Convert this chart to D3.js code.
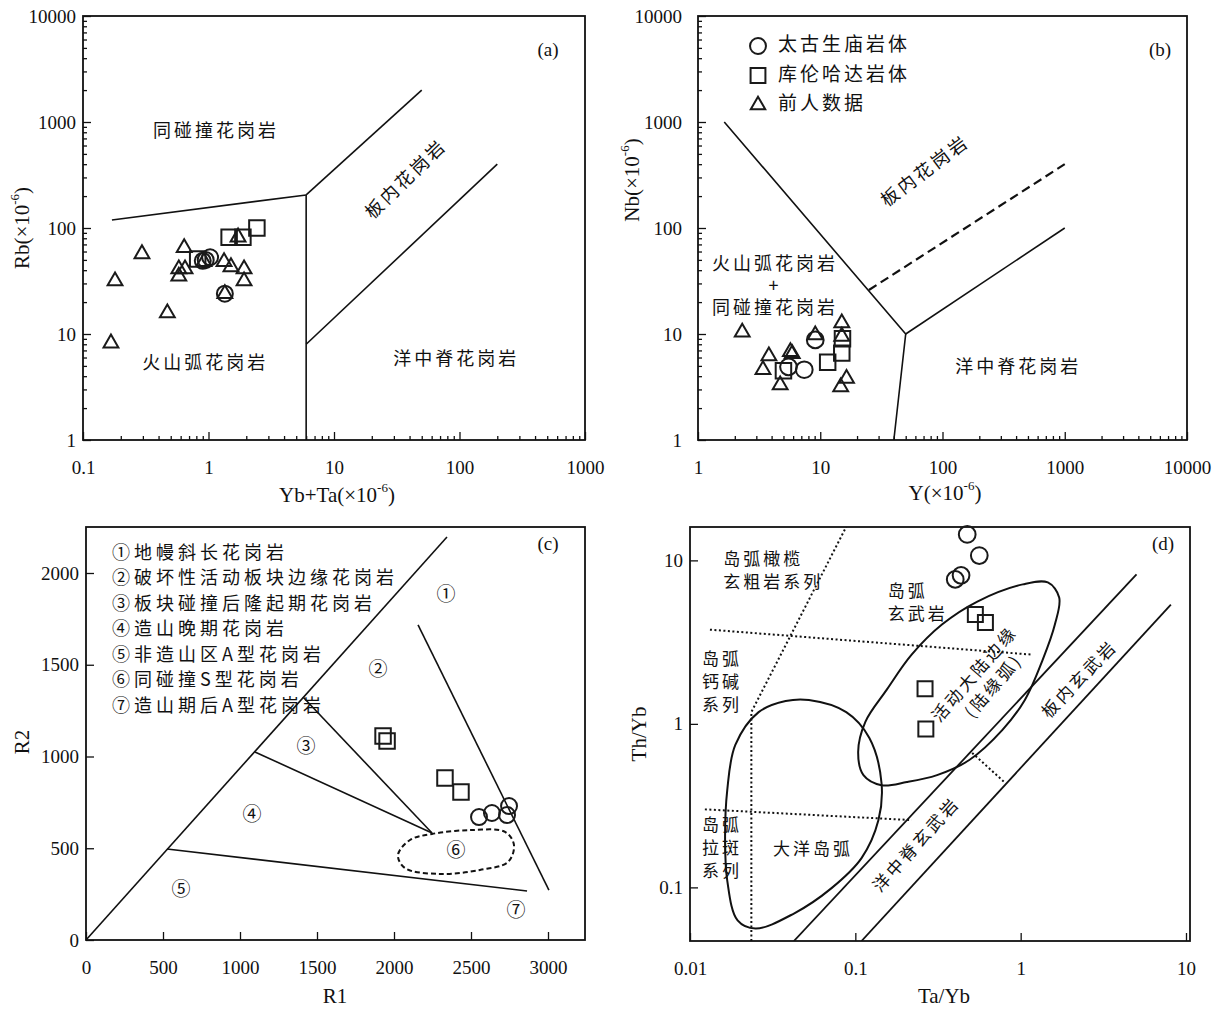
<!DOCTYPE html>
<html>
<head>
<meta charset="utf-8">
<script src="https://cdn.jsdelivr.net/npm/d3@7"></script>
<style>
  body { margin: 0; background: #fff; }
  svg text { font-family: "Liberation Serif", "Noto Sans CJK SC", serif; fill: #111; }
  svg text.cn { font-family: "Noto Sans CJK SC", sans-serif; }
</style>
</head>
<body>
<svg id="chart" width="1231" height="1011"></svg>
<script>
// ---------- data ----------
// (a) Rb vs Yb+Ta
const aCircles = [[1.03, 53], [0.95, 50], [0.9, 49], [1.35, 24]];
const aSquares = [[0.82, 51], [1.46, 82], [1.88, 82], [2.43, 100]];
const aTriangles = [[1.72, 82], [0.64, 65], [0.295, 57], [0.18, 31.6], [0.58, 41], [0.65, 41], [0.58, 35],
  [1.33, 48], [1.51, 43], [1.92, 41], [1.92, 31.6], [1.35, 24], [0.47, 15.8], [0.167, 8.2], [0.92, 48]];
const aBoundaries = [[[0.17, 119], [6, 205]], [[6, 205], [6, 1]], [[6, 205], [50, 2000]], [[6, 8], [200, 400]]];
const aLabels = [
  { t: "同碰撞花岗岩", p: [1.15, 805], r: 0 },
  { t: "板内花岗岩", p: [38, 284], r: -44 },
  { t: "火山弧花岗岩", p: [0.94, 5.2], r: 0 },
  { t: "洋中脊花岗岩", p: [94, 5.7], r: 0 }
];

// (b) Nb vs Y
const bCircles = [[9.1, 8.8], [7.4, 4.6], [5.5, 4.9]];
const bSquares = [[15.2, 9.0], [15, 6.6], [11.5, 5.4], [5.0, 4.5]];
const bTriangles = [[2.3, 10.4], [9.1, 9.8], [15, 12.7], [15, 9.5], [3.8, 6.2], [3.4, 4.6], [5.7, 6.8],
  [5.9, 6.5], [4.7, 3.3], [14.7, 3.16], [16.4, 3.8]];
const bBoundaries = [[[1.64, 1000], [50, 10], [40, 1]], [[50, 10], [1000, 100]]];
const bDashed = [[25, 26], [1000, 400]];
const bLabels = [
  { t: "板内花岗岩", p: [73, 338], r: -37 },
  { t: "火山弧花岗岩", p: [4.27, 44.8], r: 0 },
  { t: "+", p: [4.27, 27.8], r: 0 },
  { t: "同碰撞花岗岩", p: [4.27, 17.2], r: 0 },
  { t: "洋中脊花岗岩", p: [416, 4.78], r: 0 }
];
const legendItems = ["太古生庙岩体", "库伦哈达岩体", "前人数据"];

// (c) R1-R2
const cCircles = [[2552, 670], [2636, 692], [2734, 681], [2747, 730]];
const cSquares = [[1929, 1112], [1955, 1085], [2331, 883], [2435, 807]];
const cBoundaries = [[[0, 0], [2344, 2196]], [[2156, 1717], [3006, 272]], [[1409, 1324], [2247, 583]],
  [[1097, 1025], [2247, 583]], [[526, 496], [2864, 267]]];
const cField6 = [[2247, 578], [2494, 599], [2721, 589], [2779, 518], [2740, 425], [2558, 382],
  [2299, 360], [2071, 392], [2026, 463], [2104, 545]];
const cNumbers = [
  { t: "①", p: [2338, 1875] }, { t: "②", p: [1896, 1466] }, { t: "③", p: [1429, 1046] },
  { t: "④", p: [1078, 676] }, { t: "⑤", p: [617, 267] }, { t: "⑥", p: [2403, 479] }, { t: "⑦", p: [2792, 153] }
];
const cLegend = ["①地幔斜长花岗岩", "②破坏性活动板块边缘花岗岩", "③板块碰撞后隆起期花岗岩", "④造山晚期花岗岩",
  "⑤非造山区A型花岗岩", "⑥同碰撞S型花岗岩", "⑦造山期后A型花岗岩"];

// (d) Th/Yb vs Ta/Yb
const dCircles = [[0.475, 14.4], [0.562, 10.7], [0.436, 8.1], [0.402, 7.65]];
const dSquares = [[0.532, 4.66], [0.612, 4.17], [0.264, 1.64], [0.267, 0.93]];
const dSolid = [[[0.0425, 0.047], [5.02, 8.2]], [[0.109, 0.047], [8.1, 5.37]]];
const dDotted = [[[0.0132, 3.77], [1.18, 2.65]], [[0.0123, 0.30], [0.219, 0.258]],
  [[0.0235, 0.047], [0.0235, 1.18], [0.088, 16]], [[0.509, 0.664], [0.798, 0.44]]];
const dOceanArc = [[0.0524, 1.40], [0.0881, 1.18], [0.1216, 0.82], [0.144, 0.435], [0.138, 0.258], [0.109, 0.151],
  [0.0715, 0.0986], [0.0425, 0.0692], [0.0249, 0.056], [0.0194, 0.0628], [0.0168, 0.110], [0.0163, 0.194],
  [0.0168, 0.394], [0.0188, 0.743], [0.026, 1.18], [0.0379, 1.38]];
const dContArc = [[1.03, 7.13], [1.46, 7.33], [1.71, 5.93], [1.61, 4.05], [1.36, 2.47], [1.06, 1.40], [0.776, 0.919],
  [0.489, 0.601], [0.312, 0.486], [0.205, 0.441], [0.144, 0.422], [0.112, 0.486], [0.104, 0.673], [0.115, 1.03],
  [0.155, 1.62], [0.219, 2.65], [0.334, 4.05], [0.547, 5.6]];
const dLabels = [
  { t: ["岛弧橄榄", "玄粗岩系列"], p: [0.0159, 10.1], r: 0, a: "start", lh: 23 },
  { t: ["岛弧", "玄武岩"], p: [0.157, 6.37], r: 0, a: "start", lh: 23 },
  { t: ["岛弧", "钙碱", "系列"], p: [0.0118, 2.45], r: 0, a: "start", lh: 23 },
  { t: ["岛弧", "拉斑", "系列"], p: [0.0118, 0.236], r: 0, a: "start", lh: 23 },
  { t: ["大洋岛弧"], p: [0.0555, 0.169], r: 0, a: "middle", lh: 0 },
  { t: ["活动大陆边缘"], p: [0.532, 2.0], r: -49, a: "middle", lh: 0 },
  { t: ["(陆缘弧)"], p: [0.693, 1.69], r: -49, a: "middle", lh: 0 },
  { t: ["板内玄武岩"], p: [2.29, 1.86], r: -46, a: "middle", lh: 0 },
  { t: ["洋中脊玄武岩"], p: [0.236, 0.181], r: -48, a: "middle", lh: 0 }
];

// ---------- helpers ----------
const svg = d3.select("#chart");
const INK = "#111";

function logTicks(lo, hi) {
  const maj = [], min = [];
  for (let e = Math.floor(Math.log10(lo)); 10 ** e <= hi * 1.0001; e++) {
    const p = 10 ** e;
    if (p >= lo * 0.9999) maj.push(p);
    for (let k = 2; k < 10; k++) if (k * p > lo && k * p < hi) min.push(k * p);
  }
  return { maj, min };
}

function styleAxis(g) {
  g.select(".domain").remove();
  g.attr("font-size", 19).attr("color", INK);
  g.selectAll("line").attr("stroke-width", 1.3);
}

// draw axes with inward ticks; box = frame in px
function drawAxes(g, x, y, box, opt) {
  const xt = opt.xTicks, yt = opt.yTicks;
  g.append("g").attr("transform", `translate(0,${box.y1})`)
    .call(d3.axisBottom(x).tickValues(xt.maj).tickSize(-8).tickPadding(opt.xPad || 21).tickFormat(d => d))
    .call(styleAxis);
  g.append("g").attr("transform", `translate(${box.x0},0)`)
    .call(d3.axisLeft(y).tickValues(yt.maj).tickSize(-8).tickPadding(opt.yPad || 7).tickFormat(d => d))
    .call(styleAxis);
  if (xt.min) g.append("g").attr("transform", `translate(0,${box.y1})`)
    .call(d3.axisBottom(x).tickValues(xt.min).tickSize(-4).tickFormat("")).call(styleAxis);
  if (yt.min) g.append("g").attr("transform", `translate(${box.x0},0)`)
    .call(d3.axisLeft(y).tickValues(yt.min).tickSize(-4).tickFormat("")).call(styleAxis);
  g.append("rect").attr("x", box.x0).attr("y", box.y0)
    .attr("width", box.x1 - box.x0).attr("height", box.y1 - box.y0)
    .attr("fill", "none").attr("stroke", INK).attr("stroke-width", 1.8);
}

// axis title; unit adds the "(×10^-6)" suffix
function axisTitle(g, base, x, y, rotate, unit) {
  const t = g.append("text").attr("x", x).attr("y", y).attr("font-size", 21)
    .attr("text-anchor", "middle").attr("dominant-baseline", "middle");
  if (rotate) t.attr("transform", `rotate(-90,${x},${y})`);
  t.append("tspan").text(base);
  if (!unit) return;
  t.append("tspan").text("(×10");
  t.append("tspan").attr("font-size", 13).attr("dy", -8).text("-6");
  t.append("tspan").attr("dy", 8).text(")");
}

function drawLines(g, data, x, y, dash, width) {
  const line = d3.line().x(d => x(d[0])).y(d => y(d[1]));
  g.selectAll(null).data(data).join("path")
    .attr("d", line).attr("fill", "none").attr("stroke", INK)
    .attr("stroke-width", width || 1.6).attr("stroke-dasharray", dash || null);
}

function drawPoints(g, data, x, y, type, size) {
  g.selectAll(null).data(data).join("path")
    .attr("d", d3.symbol(type, size))
    .attr("transform", d => `translate(${x(d[0])},${y(d[1])})`)
    .attr("fill", "none").attr("stroke", "#1a1a1a").attr("stroke-width", 2);
}

function regionLabels(g, labels, x, y, size) {
  g.selectAll(null).data(labels).join("text").attr("class", "cn")
    .attr("font-size", size || 18).attr("letter-spacing", 3)
    .attr("text-anchor", "middle").attr("dominant-baseline", "middle")
    .attr("transform", d => `translate(${x(d.p[0])},${y(d.p[1])}) rotate(${d.r})`)
    .text(d => d.t);
}

function panelTag(g, text, px, py) {
  g.append("text").attr("x", px).attr("y", py).attr("font-size", 19)
    .attr("text-anchor", "middle").attr("dominant-baseline", "middle").text(text);
}

// ---------- (a) ----------
{
  const box = { x0: 83, x1: 585, y0: 16, y1: 440 };
  const x = d3.scaleLog().domain([0.1, 1000]).range([box.x0, box.x1]);
  const y = d3.scaleLog().domain([1, 10000]).range([box.y1, box.y0]);
  const g = svg.append("g");
  drawAxes(g, x, y, box, { xTicks: logTicks(0.1, 1000), yTicks: logTicks(1, 10000) });
  drawLines(g, aBoundaries, x, y);
  regionLabels(g, aLabels, x, y);
  drawPoints(g, aTriangles, x, y, d3.symbolTriangle, 95);
  drawPoints(g, aSquares, x, y, d3.symbolSquare, 240);
  drawPoints(g, aCircles, x, y, d3.symbolCircle, 200);
  panelTag(g, "(a)", 548, 52);
  axisTitle(g, "Rb", 24, 228, true, true);
  axisTitle(g, "Yb+Ta", 337, 497, false, true);
}

// ---------- (b) ----------
{
  const box = { x0: 698, x1: 1187, y0: 16, y1: 440 };
  const x = d3.scaleLog().domain([1, 10000]).range([box.x0, box.x1]);
  const y = d3.scaleLog().domain([1, 10000]).range([box.y1, box.y0]);
  const g = svg.append("g");
  drawAxes(g, x, y, box, { xTicks: logTicks(1, 10000), yTicks: logTicks(1, 10000), yPad: 16 });
  drawLines(g, bBoundaries, x, y);
  drawLines(g, [bDashed], x, y, "9,5", 2.2);
  regionLabels(g, bLabels, x, y);
  drawPoints(g, bTriangles, x, y, d3.symbolTriangle, 95);
  drawPoints(g, bSquares, x, y, d3.symbolSquare, 240);
  drawPoints(g, bCircles, x, y, d3.symbolCircle, 220);
  panelTag(g, "(b)", 1160, 52);
  axisTitle(g, "Nb", 634, 180, true, true);
  axisTitle(g, "Y", 945, 495, false, true);

  // legend
  const types = [d3.symbolCircle, d3.symbolSquare, d3.symbolTriangle];
  const sizes = [200, 220, 90];
  const lg = g.selectAll(".legend").data(legendItems).join("g")
    .attr("transform", (d, i) => `translate(758,${46 + i * 29.5})`);
  lg.append("path").attr("d", (d, i) => d3.symbol(types[i], sizes[i])())
    .attr("fill", "none").attr("stroke", "#1a1a1a").attr("stroke-width", 2);
  lg.append("text").attr("class", "cn").attr("x", 20).attr("font-size", 19).attr("letter-spacing", 3)
    .attr("dominant-baseline", "middle").text(d => d);
}

// ---------- (c) ----------
{
  const box = { x0: 86, x1: 585, y0: 527, y1: 940 };
  const x = d3.scaleLinear().domain([0, 3000]).range([86, 548]);
  const y = d3.scaleLinear().domain([0, 2000]).range([940, 573]);
  const g = svg.append("g");
  drawAxes(g, x, y, box, { xTicks: { maj: d3.range(0, 3001, 500) }, yTicks: { maj: d3.range(0, 2001, 500) } });
  drawLines(g, cBoundaries, x, y);
  g.append("path").datum(cField6)
    .attr("d", d3.line().x(d => x(d[0])).y(d => y(d[1])).curve(d3.curveCatmullRomClosed))
    .attr("fill", "none").attr("stroke", INK).attr("stroke-width", 2).attr("stroke-dasharray", "5,3");
  g.selectAll(null).data(cNumbers).join("text").attr("class", "cn").attr("font-size", 19)
    .attr("text-anchor", "middle").attr("dominant-baseline", "middle")
    .attr("x", d => x(d.p[0])).attr("y", d => y(d.p[1])).text(d => d.t);
  g.selectAll(null).data(cLegend).join("text").attr("class", "cn")
    .attr("x", 112).attr("y", (d, i) => 554 + i * 25.5).attr("font-size", 18).attr("letter-spacing", 4)
    .attr("dominant-baseline", "middle").text(d => d);
  drawPoints(g, cSquares, x, y, d3.symbolSquare, 240);
  drawPoints(g, cCircles, x, y, d3.symbolCircle, 200);
  panelTag(g, "(c)", 548, 546);
  axisTitle(g, "R2", 24, 742, true, false);
  axisTitle(g, "R1", 335, 998, false, false);
}

// ---------- (d) ----------
{
  const box = { x0: 690, x1: 1190, y0: 527, y1: 941 };
  const x = d3.scaleLog().domain([0.01, 10]).range([690, 1186]);
  const y = d3.scaleLog().domain([0.047, 16]).range([941, 527]);
  const g = svg.append("g");
  g.append("defs").append("clipPath").attr("id", "clipD").append("rect")
    .attr("x", box.x0).attr("y", box.y0).attr("width", box.x1 - box.x0).attr("height", box.y1 - box.y0);
  drawAxes(g, x, y, box, { xTicks: { maj: [0.01, 0.1, 1, 10] }, yTicks: { maj: [0.1, 1, 10] } });
  const inner = g.append("g").attr("clip-path", "url(#clipD)");
  drawLines(inner, dSolid, x, y, null, 1.8);
  drawLines(inner, dDotted, x, y, "2,2.5", 2);
  const closed = d3.line().x(d => x(d[0])).y(d => y(d[1])).curve(d3.curveCatmullRomClosed);
  inner.selectAll(null).data([dOceanArc, dContArc]).join("path")
    .attr("d", closed).attr("fill", "none").attr("stroke", INK).attr("stroke-width", 2);

  const lab = g.selectAll(null).data(dLabels).join("text").attr("class", "cn")
    .attr("font-size", 17).attr("letter-spacing", 3).attr("dominant-baseline", "middle")
    .attr("text-anchor", d => d.a)
    .attr("transform", d => `translate(${x(d.p[0])},${y(d.p[1])}) rotate(${d.r})`);
  lab.selectAll("tspan").data(d => d.t.map((s, i) => ({ s, i, lh: d.lh }))).join("tspan")
    .attr("x", 0).attr("y", d => d.i * d.lh).text(d => d.s);

  drawPoints(g, dSquares, x, y, d3.symbolSquare, 225);
  drawPoints(g, dCircles, x, y, d3.symbolCircle, 220);
  panelTag(g, "(d)", 1163, 546);
  axisTitle(g, "Th/Yb", 641, 734, true, false);
  axisTitle(g, "Ta/Yb", 944, 998, false, false);
}
</script>
</body>
</html>
